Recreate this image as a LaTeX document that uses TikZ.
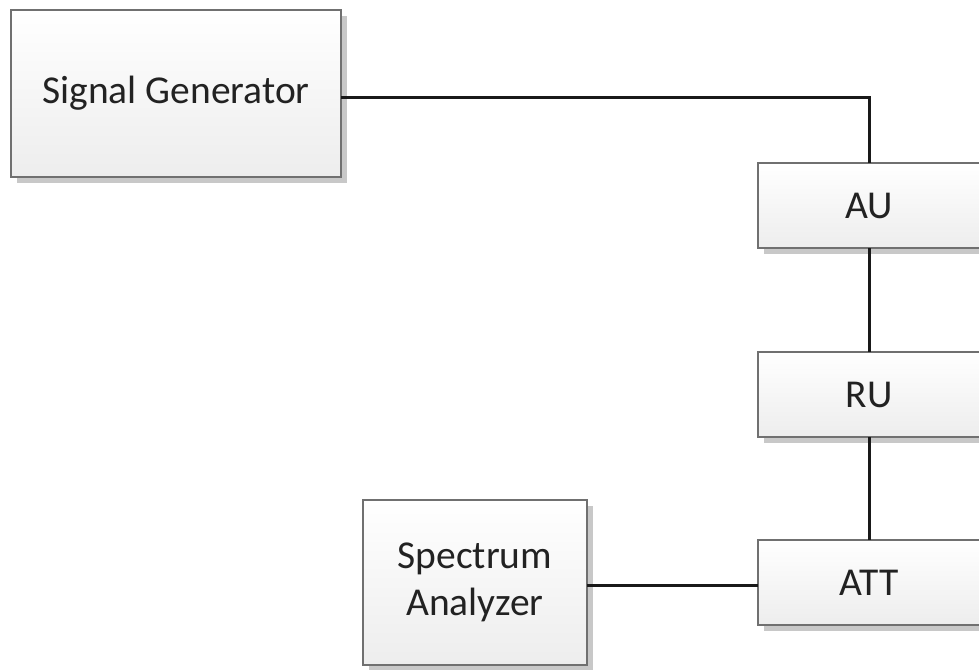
\documentclass[tikz,border=0pt]{standalone}
\usepackage{fontspec}
\setmainfont{Carlito}
\usetikzlibrary{shadows}
\definecolor{boxline}{HTML}{707070}
\definecolor{boxbot}{HTML}{EDEDED}
\definecolor{shadowc}{HTML}{C8C8C8}
\definecolor{txt}{HTML}{222222}
\tikzset{
  blockbox/.style={rectangle, draw=boxline, line width=1.6pt, top color=white, bottom color=boxbot,
    inner sep=0pt, outer sep=0pt, align=center, text=txt,
    font=\fontsize{39.5}{47}\selectfont,
    drop shadow={shadow xshift=6pt, shadow yshift=-6pt, fill=shadowc, opacity=1}},
  wire/.style={line width=3pt, draw=black!90}
}
\begin{document}
\begin{tikzpicture}[x=1pt,y=-1pt]
\useasboundingbox (0,0) rectangle (979,669);
\node[blockbox, minimum width=330pt, minimum height=167pt] (sg) at (176,93.5) {Signal Generator};
\node[blockbox, minimum width=222pt, minimum height=85pt] (au) at (869,205.5) {AU};
\node[blockbox, minimum width=222pt, minimum height=85pt] (ru) at (869,394.5) {RU};
\node[blockbox, minimum width=222pt, minimum height=85pt] (att) at (869,582.5) {ATT};
\node[blockbox, minimum width=224pt, minimum height=165pt] (sa) at (475,582.5) {Spectrum\\Analyzer};
\coordinate (bend) at (au.north |- 0,97);
\draw[wire] ([yshift=-3.5pt]sg.east) -- (bend) -- (au.north);
\draw[wire] (au.south) -- (ru.north);
\draw[wire] (ru.south) -- (att.north);
\draw[wire] ([yshift=-2.5pt]sa.east) -- ([yshift=-2.5pt]att.west);
\end{tikzpicture}
\end{document}
